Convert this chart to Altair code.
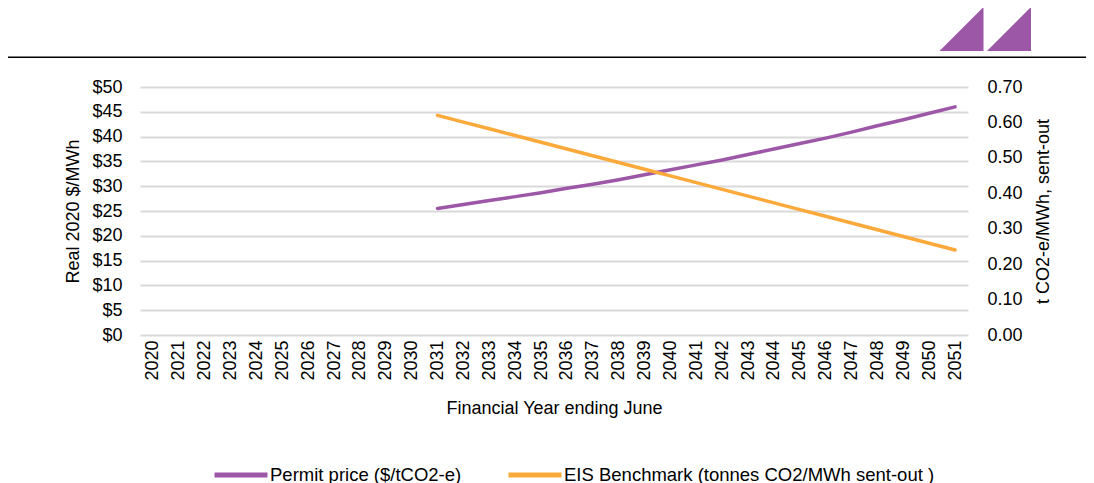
import altair as alt
import pandas as pd

# ---------------- data ----------------
years = ["2020", "2021", "2022", "2023", "2024", "2025", "2026", "2027",
         "2028", "2029", "2030", "2031", "2032", "2033", "2034", "2035",
         "2036", "2037", "2038", "2039", "2040", "2041", "2042", "2043",
         "2044", "2045", "2046", "2047", "2048", "2049", "2050", "2051"]
data_years = years[11:]
permit_price = [25.5, 26.3, 27.1, 27.9, 28.7, 29.6, 30.4, 31.3, 32.3, 33.3,
                34.3, 35.3, 36.4, 37.5, 38.6, 39.7, 40.9, 42.2, 43.4, 44.7, 46.0]
eis_benchmark = [0.620, 0.601, 0.582, 0.563, 0.544, 0.525, 0.506, 0.487, 0.468,
                 0.449, 0.430, 0.411, 0.392, 0.373, 0.354, 0.335, 0.316, 0.297,
                 0.278, 0.259, 0.240]
series_names = ["Permit price ($/tCO2-e)", "EIS Benchmark (tonnes CO2/MWh sent-out )"]
series_colors = ["#9D57A7", "#FCA93B"]
left_ticks = [0, 5, 10, 15, 20, 25, 30, 35, 40, 45, 50]
right_ticks = [0.0, 0.1, 0.2, 0.3, 0.4, 0.5, 0.6, 0.7]
title_fig = "FIGURE 6.7"
title_main = "ASSUMED EIS EMISSIONS BENCHMARK AND CERTIFICATE PRICE \u2013 BAU CASE"

FONT = "Liberation Sans, Arial, sans-serif"
FS = 18

df = pd.concat([
    pd.DataFrame({"year": data_years, "value": permit_price, "series": series_names[0]}),
    pd.DataFrame({"year": data_years, "value": eis_benchmark, "series": series_names[1]}),
])

x_enc = alt.X("year:O",
              scale=alt.Scale(domain=years, padding=0.5),
              axis=alt.Axis(title="Financial Year ending June", labelAngle=270,
                            labelPadding=5, ticks=False, domain=False, grid=False,
                            titleX=414, titleY=73, titleBaseline="middle",
                            titleAlign="center"))

color_enc = alt.Color("series:N",
                      scale=alt.Scale(domain=series_names, range=series_colors),
                      legend=alt.Legend(title=None, orient="none", direction="horizontal",
                                        legendX=72, legendY=359, symbolType="stroke",
                                        symbolSize=2809, symbolStrokeWidth=5,
                                        columnPadding=36, labelLimit=600, padding=0,
                                        labelOffset=0))

permit = alt.Chart(df).transform_filter(
    alt.datum.series == series_names[0]
).mark_line(strokeWidth=3.5, strokeCap="round").encode(
    x=x_enc,
    y=alt.Y("value:Q", scale=alt.Scale(domain=[0, 50]),
            axis=alt.Axis(values=left_ticks, labelExpr="'$' + datum.value",
                          title="Real 2020 $/MWh", orient="left", grid=True,
                          gridColor="#D9D9D9", gridWidth=2, domain=False, ticks=False,
                          labelPadding=18, titleAngle=270, titleX=-67, titleY=124,
                          titleBaseline="middle", titleAlign="center")),
    color=color_enc,
)

eis = alt.Chart(df).transform_filter(
    alt.datum.series == series_names[1]
).mark_line(strokeWidth=3.5, strokeCap="round").encode(
    x=x_enc,
    y=alt.Y("value:Q", scale=alt.Scale(domain=[0, 0.7]),
            axis=alt.Axis(values=right_ticks, format=".2f",
                          title="t CO2-e/MWh, sent-out", orient="right", grid=False,
                          domain=False, ticks=False, labelPadding=19,
                          titleAngle=270, titleX=75, titleY=124,
                          titleBaseline="middle", titleAlign="center")),
    color=color_enc,
)

one = pd.DataFrame({"k": [0]})

hline = alt.Chart(one).mark_rule(color="black", strokeWidth=1.5).encode(
    x=alt.value(-134), x2=alt.value(953), y=alt.value(-29.7))

tri_path = "M 1 -1 L 1 1 L -1 1 Z"
tri1 = alt.Chart(one).mark_point(shape=tri_path, filled=True, color="#9D57A7",
                                 opacity=1, size=1936, strokeWidth=0).encode(
    x=alt.value(821.5), y=alt.value(-58))
tri2 = alt.Chart(one).mark_point(shape=tri_path, filled=True, color="#9D57A7",
                                 opacity=1, size=1936, strokeWidth=0).encode(
    x=alt.value(869), y=alt.value(-58))

t1 = alt.Chart(one).mark_text(align="left", baseline="alphabetic", fontSize=22,
                              font=FONT, color="black").encode(
    x=alt.value(-128), y=alt.value(-84), text=alt.value(title_fig))
t2 = alt.Chart(one).mark_text(align="left", baseline="alphabetic", fontSize=22.5,
                              font=FONT, color="black").encode(
    x=alt.value(35), y=alt.value(-84), text=alt.value(title_main))

chart = alt.layer(permit, eis, hline, tri1, tri2, t1, t2).resolve_scale(
    y="independent"
).properties(
    width=828, height=248,
    autosize=alt.AutoSizeParams(type="none"),
    padding={"left": 132, "top": 79, "right": 118, "bottom": 148},
).configure_view(stroke=None).configure_axis(
    labelFont=FONT, titleFont=FONT, labelFontSize=FS, titleFontSize=FS,
    labelColor="black", titleColor="black", titleFontWeight="normal",
).configure_legend(
    labelFont=FONT, labelFontSize=18.5, labelColor="black",
)

chart.save("out.html", embed_options={"renderer": "svg", "actions": False})
